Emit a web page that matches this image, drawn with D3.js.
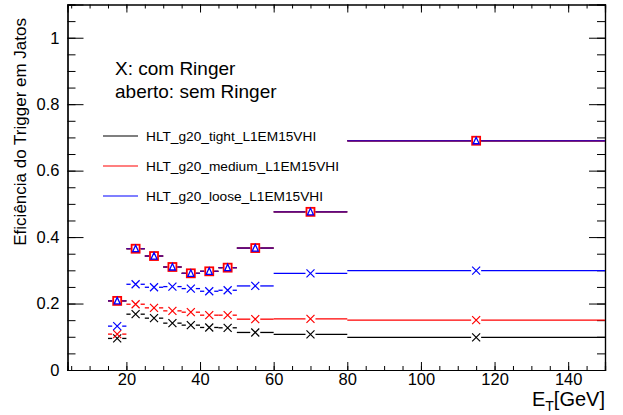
<!DOCTYPE html>
<html>
<head>
<meta charset="utf-8">
<script src="https://cdn.jsdelivr.net/npm/d3@7"></script>
<style>
	body { margin: 0; background: #fff; }
	svg { font-family: "Liberation Sans", Arial, sans-serif; }
</style>
</head>
<body>
<svg width="623" height="415"></svg>
<script>
// bins in E_T [GeV]
const binLow  = [15, 20, 25, 30, 35, 40, 45, 50, 60, 80];
const binHigh = [20, 25, 30, 35, 40, 45, 50, 60, 80, 150];

// efficiencies
const semRinger    = [0.208, 0.365, 0.343, 0.310, 0.291, 0.297, 0.308, 0.367, 0.476, 0.690];
const tightRinger  = [0.095, 0.168, 0.156, 0.141, 0.135, 0.128, 0.127, 0.113, 0.107, 0.098];
const mediumRinger = [0.108, 0.198, 0.187, 0.178, 0.174, 0.165, 0.165, 0.153, 0.154, 0.150];
const looseRinger  = [0.132, 0.258, 0.249, 0.251, 0.245, 0.237, 0.240, 0.253, 0.291, 0.299];

const legendNames = ["HLT_g20_tight_L1EM15VHI", "HLT_g20_medium_L1EM15VHI", "HLT_g20_loose_L1EM15VHI"];
const legendColors = ["#000000", "#ff0000", "#0000ff"];

const xTicks = [20, 40, 60, 80, 100, 120, 140];
const yTicks = [0, 0.2, 0.4, 0.6, 0.8, 1];

const canvas = d3.select("svg");

const padLeft = 67.5, padRight = 605, padTop = 4.5, padBottom = 370;

const xScale = d3.scaleLinear().domain([4, 150]).range([padLeft, padRight]);
const yScale = d3.scaleLinear().domain([0, 1.1]).range([padBottom, padTop]);

const xMinor = d3.range(5, 151, 5);
const yMinor = d3.range(0, 1.101, 0.05);

// axes - ticks pointing inside like ROOT
canvas.append("g").attr("transform", `translate(0,${padBottom})`)
	.call(d3.axisBottom(xScale).tickValues(xMinor).tickSize(-4).tickFormat(""));
canvas.append("g").attr("transform", `translate(0,${padBottom})`)
	.call(d3.axisBottom(xScale).tickValues(xTicks).tickSize(-8).tickPadding(3).tickFormat(d3.format("d")));
canvas.append("g").attr("transform", `translate(0,${padTop})`)
	.call(d3.axisTop(xScale).tickValues(xMinor).tickSize(-4).tickFormat(""));
canvas.append("g").attr("transform", `translate(0,${padTop})`)
	.call(d3.axisTop(xScale).tickValues(xTicks).tickSize(-8).tickFormat(""));

canvas.append("g").attr("transform", `translate(${padLeft},0)`)
	.call(d3.axisLeft(yScale).tickValues(yMinor).tickSize(-8).tickFormat(""));
canvas.append("g").attr("transform", `translate(${padLeft},0)`)
	.call(d3.axisLeft(yScale).tickValues(yTicks).tickSize(-16).tickPadding(8).tickFormat(d => d === 0 ? "0" : d === 1 ? "1" : d3.format(".1f")(d)));
canvas.append("g").attr("transform", `translate(${padRight},0)`)
	.call(d3.axisRight(yScale).tickValues(yMinor).tickSize(-8).tickFormat(""));
canvas.append("g").attr("transform", `translate(${padRight},0)`)
	.call(d3.axisRight(yScale).tickValues(yTicks).tickSize(-16).tickFormat(""));

canvas.selectAll(".domain").attr("stroke", "#000").attr("stroke-width", 1.2);
canvas.selectAll(".tick line").attr("stroke", "#000");
canvas.selectAll(".tick text").attr("font-size", 16.5).attr("fill", "#000")
	.attr("font-family", "'Liberation Sans', Arial, sans-serif");

// axis titles
canvas.append("text")
	.attr("transform", "translate(26,18) rotate(-90)")
	.attr("text-anchor", "end")
	.attr("font-size", 17)
	.text("Eficiência do Trigger em Jatos");

const xt = canvas.append("text")
	.attr("x", 605).attr("y", 406)
	.attr("text-anchor", "end")
	.attr("font-size", 20);
xt.append("tspan").text("E");
xt.append("tspan").attr("font-size", 14).attr("dy", 5).text("T");
xt.append("tspan").attr("dy", -5).text("[GeV]");

// data points
const bins = binLow.map((lo, i) => ({lo: lo, hi: binHigh[i], c: (lo + binHigh[i]) / 2, i: i}));

function drawBars(values, color, gap, opacity) {
	const g = canvas.append("g").attr("stroke", color).attr("stroke-width", 1.3).attr("opacity", opacity);
	g.selectAll(".l").data(bins).join("line")
		.attr("x1", d => xScale(d.lo)).attr("x2", d => xScale(d.c) - gap)
		.attr("y1", d => yScale(values[d.i])).attr("y2", d => yScale(values[d.i]));
	g.selectAll(".r").data(bins).join("line")
		.attr("x1", d => xScale(d.c) + gap).attr("x2", d => xScale(d.hi))
		.attr("y1", d => yScale(values[d.i])).attr("y2", d => yScale(values[d.i]));
}

function drawCross(values, color) {
	canvas.append("g").attr("stroke", color).attr("stroke-width", 1.2).attr("fill", "none")
		.selectAll("path").data(bins).join("path")
		.attr("d", d => {
			const x = xScale(d.c), y = yScale(values[d.i]), s = 4;
			return `M${x - s},${y - s}L${x + s},${y + s}M${x - s},${y + s}L${x + s},${y - s}`;
		});
}

drawBars(tightRinger, "#000000", 5, 1);
drawBars(mediumRinger, "#ff0000", 5, 1);
drawBars(looseRinger, "#0000ff", 5, 1);
drawCross(tightRinger, "#000000");
drawCross(mediumRinger, "#ff0000");
drawCross(looseRinger, "#0000ff");

// open markers (sem Ringer) - the three triggers coincide
drawBars(semRinger, "#000000", 5, 1);
drawBars(semRinger, "#ff0000", 5, 1);
drawBars(semRinger, "#1a00cc", 5, 0.8);

canvas.append("g").attr("stroke", "#ff0000").attr("stroke-width", 1.8).attr("fill", "none")
	.selectAll("rect").data(bins).join("rect")
	.attr("x", d => xScale(d.c) - 4).attr("y", d => yScale(semRinger[d.i]) - 4)
	.attr("width", 8).attr("height", 8);
canvas.append("g").attr("stroke", "#0000ff").attr("stroke-width", 1.3).attr("fill", "#fff")
	.selectAll("path").data(bins).join("path")
	.attr("d", d => {
		const x = xScale(d.c), y = yScale(semRinger[d.i]);
		return `M${x - 3},${y + 3}L${x},${y - 3.5}L${x + 3},${y + 3}Z`;
	});

// annotation
canvas.append("text").attr("x", 115).attr("y", 75).attr("font-size", 19).text("X: com Ringer");
canvas.append("text").attr("x", 115).attr("y", 98).attr("font-size", 19).text("aberto: sem Ringer");

// legend
const legendY = [136, 166, 196];
const lg = canvas.append("g");
lg.selectAll("line").data(legendNames).join("line")
	.attr("x1", 103).attr("x2", 138)
	.attr("y1", (d, i) => legendY[i]).attr("y2", (d, i) => legendY[i])
	.attr("stroke", (d, i) => legendColors[i]).attr("stroke-width", 1.2);
lg.selectAll("text").data(legendNames).join("text")
	.attr("x", 146).attr("y", (d, i) => legendY[i] + 5)
	.attr("font-size", 13.7)
	.text(d => d);
</script>
</body>
</html>
